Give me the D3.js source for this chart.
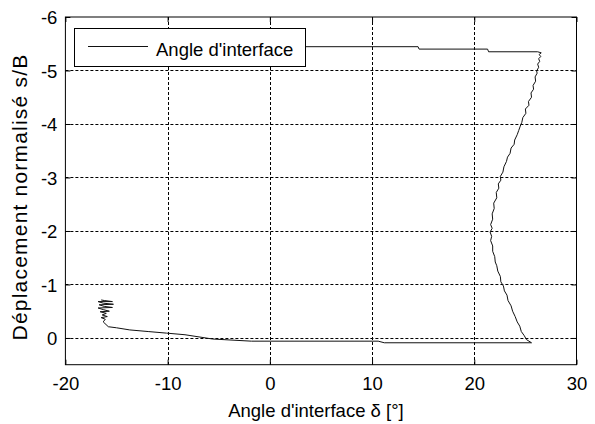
<!DOCTYPE html>
<html><head><meta charset="utf-8">
<script src="https://cdn.jsdelivr.net/npm/d3@7"></script>
<style>
html,body{margin:0;padding:0;background:#fff;}
svg text{font-family:"Liberation Sans",Arial,sans-serif;fill:#000;}
</style></head>
<body><svg id="chart" width="595" height="424"></svg>
<script>
const xTicks = [-20, -10, 0, 10, 20, 30];
const yTicks = [-6, -5, -4, -3, -2, -1, 0];
const seriesName = "Angle d'interface";
// Interface angle δ [°]
const angle = [
 -5, 14.5, 14.6, 21.3, 21.4, 26.2, 26.55,
 26.35, 26.5, 26.3, 26.4, 26.2, 26.3, 26.1, 26.15, 25.95, 26.0, 25.75, 25.8, 25.55, 25.6,
 25.3, 25.35, 25.0, 25.05, 24.75, 24.65, 24.5, 24.35, 24.2, 23.95, 23.9, 23.6, 23.5, 23.25,
 23.15, 22.9, 22.8, 22.55, 22.6, 22.35, 22.4, 22.15, 22.2, 21.9, 21.95, 21.75, 21.8, 21.6,
 21.75, 21.55, 21.7, 21.6, 21.8, 21.8, 22.0, 22.05, 22.2, 22.3, 22.55, 22.6, 22.85, 22.95,
 23.2, 23.3, 23.6, 23.75, 24.0, 24.2, 24.45, 24.6, 24.9, 25.1, 25.6,
 11.2, 10.6, -1.8, -5.6, -8.3, -10.1, -11.9, -13.7, -15.0, -15.8, -16.3,
 -16.1, -16.5, -15.9, -16.4, -16.0, -16.6, -15.7, -16.3, -16.8, -15.4, -16.2, -16.7, -15.3,
 -16.3, -16.8, -15.4, -16.2, -16.5
];
// Normalised displacement s/B
const displacement = [
 -5.445, -5.445, -5.40, -5.40, -5.35, -5.35, -5.33,
 -5.30, -5.26, -5.22, -5.17, -5.12, -5.06, -4.99, -4.95, -4.88, -4.80, -4.72, -4.65, -4.58, -4.50,
 -4.42, -4.35, -4.28, -4.20, -4.12, -4.03, -3.96, -3.88, -3.80, -3.70, -3.62, -3.55, -3.45, -3.38,
 -3.30, -3.20, -3.10, -3.02, -2.95, -2.88, -2.80, -2.72, -2.62, -2.52, -2.42, -2.32, -2.22, -2.12,
 -2.05, -1.98, -1.90, -1.82, -1.72, -1.62, -1.52, -1.42, -1.35, -1.25, -1.15, -1.05, -0.97, -0.88,
 -0.80, -0.70, -0.60, -0.50, -0.40, -0.30, -0.22, -0.12, -0.04, 0.03, 0.09,
 0.09, 0.06, 0.06, 0.02, -0.06, -0.09, -0.12, -0.15, -0.19, -0.21, -0.30,
 -0.35, -0.38, -0.40, -0.43, -0.46, -0.49, -0.50, -0.53, -0.56, -0.57, -0.59, -0.62, -0.63,
 -0.65, -0.68, -0.68, -0.70, -0.71
];

const svg = d3.select("#chart");
const L = 65.4, R = 576.5, T = 17, B = 364.7;
const x = d3.scaleLinear().domain([-20, 30]).range([L, R]);
const y = d3.scaleLinear().domain([-6, 0.5]).range([T, B]);

// grid
const g = svg.append("g");
g.selectAll("line.gx").data(xTicks.slice(1, -1)).enter().append("line")
  .attr("x1", d => Math.round(x(d)) + 0.5).attr("x2", d => Math.round(x(d)) + 0.5)
  .attr("y1", T).attr("y2", B).attr("stroke", "#000").attr("stroke-width", 1)
  .attr("stroke-dasharray", "3,2");
g.selectAll("line.gy").data(yTicks.slice(1)).enter().append("line")
  .attr("y1", d => Math.round(y(d)) + 0.5).attr("y2", d => Math.round(y(d)) + 0.5)
  .attr("x1", L).attr("x2", R).attr("stroke", "#000").attr("stroke-width", 1)
  .attr("stroke-dasharray", "3,2");

// data line
const pts = angle.map((a, i) => [a, displacement[i]]);
svg.append("path").datum(pts)
  .attr("fill", "none").attr("stroke", "#111").attr("stroke-width", 1)
  .attr("d", d3.line().x(d => x(d[0])).y(d => y(d[1])));

// axes
const fs = "18.5px";
const fmt = d => String(d);
const ax = svg.append("g").attr("transform", `translate(0,${B})`)
  .call(d3.axisBottom(x).tickValues(xTicks).tickSizeInner(-5).tickSizeOuter(0).tickFormat(fmt));
ax.selectAll("text").attr("y", 25.5).attr("dy", 0).style("font-size", fs);
const ay = svg.append("g").attr("transform", `translate(${L},0)`)
  .call(d3.axisLeft(y).tickValues(yTicks).tickSizeInner(-5).tickSizeOuter(0).tickFormat(fmt).tickPadding(8));
ay.selectAll("text").attr("dy", "0.36em").style("font-size", fs);
svg.append("g").attr("transform", `translate(0,${T})`)
  .call(d3.axisTop(x).tickValues(xTicks).tickSizeInner(-5).tickSizeOuter(0).tickFormat(""));
svg.append("g").attr("transform", `translate(${R},0)`)
  .call(d3.axisRight(y).tickValues(yTicks).tickSizeInner(-5).tickSizeOuter(0).tickFormat(""));
svg.selectAll(".domain").remove();
svg.selectAll(".tick line").attr("stroke", "#000");

// box
svg.append("rect").attr("x", L).attr("y", T).attr("width", R - L).attr("height", B - T)
  .attr("fill", "none").attr("stroke", "#000").attr("stroke-width", 1);

// legend
const lg = svg.append("g");
lg.append("rect").attr("x", 74.5).attr("y", 28.5).attr("width", 231).attr("height", 38)
  .attr("fill", "#fff").attr("stroke", "#000").attr("stroke-width", 1);
lg.append("line").attr("x1", 88).attr("x2", 148).attr("y1", 46.5).attr("y2", 46.5)
  .attr("stroke", "#111").attr("stroke-width", 1);
lg.append("text").attr("x", 156).attr("y", 56).style("font-size", "18.5px").text(seriesName);

// axis titles
svg.append("text").attr("x", (L + R) / 2 - 5).attr("y", 416.5).attr("text-anchor", "middle")
  .style("font-size", "18.5px").text("Angle d'interface δ [°]");
svg.append("text").attr("transform", `translate(27,197) rotate(-90)`)
  .attr("text-anchor", "middle").style("font-size", "21px").style("letter-spacing", "1.2px")
  .text("Déplacement normalisé s/B");
</script></body></html>
